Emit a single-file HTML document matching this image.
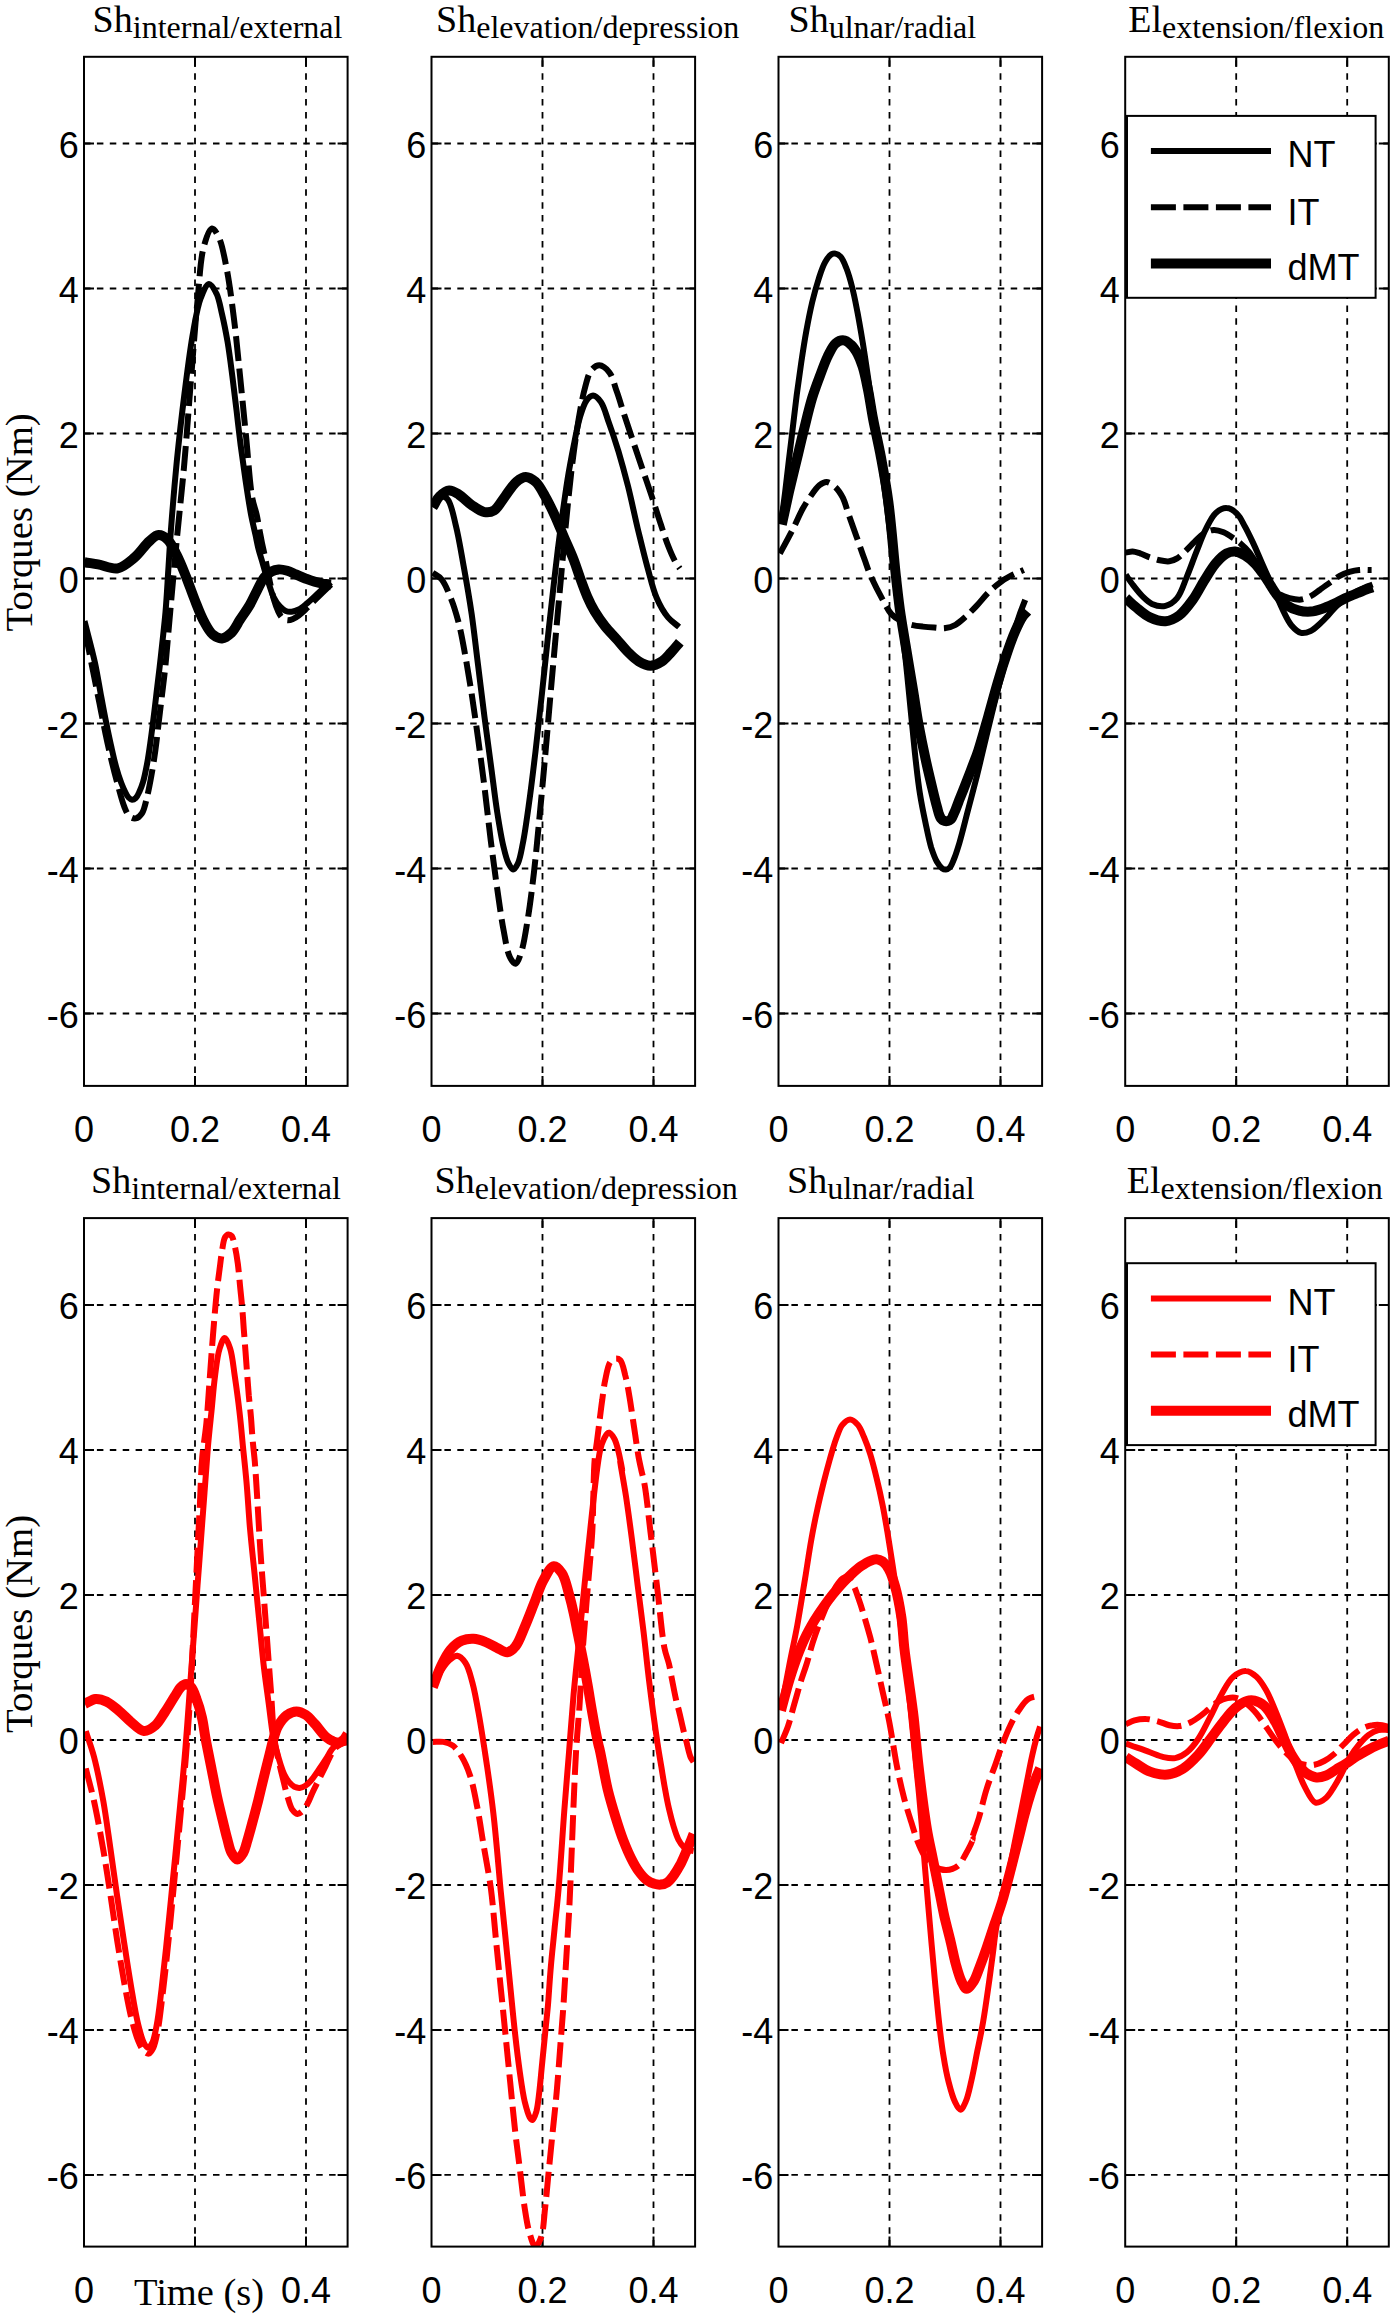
<!DOCTYPE html>
<html><head><meta charset="utf-8"><style>
html,body{margin:0;padding:0;background:#fff;}
svg{display:block;}
.tk{font-family:"Liberation Sans",sans-serif;font-size:36px;fill:#000;}
.ti{font-family:"Liberation Serif",serif;fill:#000;}
.lg{font-family:"Liberation Sans",sans-serif;font-size:36px;fill:#000;}
</style></head><body>
<svg width="1395" height="2319" viewBox="0 0 1395 2319">
<rect x="0" y="0" width="1395" height="2319" fill="#fff"/>

<clipPath id="c00"><rect x="84" y="56.8" width="263.6" height="1029.1"/></clipPath>
<g stroke="#000" stroke-width="1.8" stroke-dasharray="6.5 6.4" fill="none"><line x1="84" y1="1013.5" x2="347.6" y2="1013.5"/><line x1="84" y1="868.5" x2="347.6" y2="868.5"/><line x1="84" y1="723.5" x2="347.6" y2="723.5"/><line x1="84" y1="578.5" x2="347.6" y2="578.5"/><line x1="84" y1="433.5" x2="347.6" y2="433.5"/><line x1="84" y1="288.5" x2="347.6" y2="288.5"/><line x1="84" y1="143.5" x2="347.6" y2="143.5"/><line x1="195" y1="1085.9" x2="195" y2="56.8"/><line x1="306" y1="1085.9" x2="306" y2="56.8"/></g>
<path d="M84 1013.5h10M347.6 1013.5h-10M84 868.5h10M347.6 868.5h-10M84 723.5h10M347.6 723.5h-10M84 578.5h10M347.6 578.5h-10M84 433.5h10M347.6 433.5h-10M84 288.5h10M347.6 288.5h-10M84 143.5h10M347.6 143.5h-10M195 1085.9v-10M195 56.8v10M306 1085.9v-10M306 56.8v10" stroke="#000" stroke-width="2" fill="none"/>
<g clip-path="url(#c00)"><path d="M84.5 562.2C89.1 563 93.2 563.5 98.1 564.4C104.1 565.4 111.7 569.4 117.8 568.3C123.8 567.2 129.2 562 134.4 557.7C139.8 553.1 144.8 545.1 149.5 541.1C152.7 538.3 155.4 535.3 158.5 535.1C161.5 534.9 164.9 537.1 167.6 539.6C171.2 542.9 173.8 549.1 176.6 554.7C179.9 561.1 182.8 568.5 185.7 575.8C188.8 583.6 191.7 592.2 194.8 600C197.7 607.3 200.5 615 203.8 621.1C206.6 626.3 209.4 631.9 212.9 634.7C215.6 636.9 219 638.6 221.9 638.4C225 638.1 228.3 635.8 231 633.2C234.5 630 237 624.3 240.1 619.6C243.3 614.7 247.1 609.6 250 604.5C252.7 599.7 254.8 594.8 257.2 590.2C259.5 585.8 261.6 580.6 264.3 577.3C266.5 574.7 269 572.8 271.5 571.5C273.8 570.3 276.2 569.6 278.7 569.4C281.4 569.2 284.5 570 287.3 570.8C290.2 571.6 292.9 573.1 295.9 574.4C299.1 575.8 302.7 577.5 305.9 578.7C308.9 579.8 311.6 580.8 314.5 581.6C317.3 582.4 320.3 583.2 323.1 583.7C325.8 584.1 328.4 584.2 331 584.4" stroke="#000" stroke-width="10.0" fill="none" stroke-linejoin="round" stroke-linecap="butt"/><path d="M84.5 621.1C88.1 635.2 92.3 650.5 95.1 663.4C97.4 674.2 98.8 683.5 100.6 693.2C102.3 702.4 103.9 711.3 105.7 720.1C107.4 728.5 109.1 736.9 110.9 744.9C112.6 752.4 114.2 760 116.1 766.7C117.7 772.6 119.6 778.5 121.3 783C122.6 786.3 123.7 788.9 125 791.5C126.1 793.7 127.1 796.1 128.5 797.5C129.6 798.6 130.9 799.7 132.1 799.8C133.3 799.9 134.7 799 135.8 798C137.3 796.6 138.4 793.9 139.5 791.5C140.8 788.7 141.9 785.9 143 782.2C144.5 777.1 145.9 770 147.1 763.6C148.4 756.9 149.3 750.1 150.3 742.9C151.4 735.2 152.4 727.1 153.4 719C154.5 710.6 155.5 701.8 156.5 693.2C157.5 684.6 158.6 676.1 159.6 667.3C160.7 658.2 161.7 648.6 162.7 639.3C163.7 630.1 164.6 622.1 165.5 612C166.6 599.5 167.4 583.9 168.3 570C169.2 556.3 169.8 544.4 171 529C172.5 509.2 174.6 483.9 176.8 461.3C179.1 438.7 181.7 415.6 184.5 393.5C187.2 372.3 190 348.7 193.3 331.2C195.6 318.4 197.4 306.5 200.8 298C203.1 292.2 206.2 284.3 209 284.1C211.4 284 214.5 289.7 216.6 293.8C219.2 299.2 220.3 307.1 222.1 314.5C224.1 323 225.9 332.3 227.6 342.1C229.4 352.9 230.9 365.1 232.4 376.6C233.9 388 235.2 399.5 236.6 411C237.9 422.5 239.2 434 240.7 445.5C242.2 457 243.8 468.5 245.5 480C247.2 491.5 249.2 504.5 251 514.5C252.5 522.2 254.2 528.8 255.5 535C256.6 540.1 257.3 544.4 258.5 549C259.6 553.4 261.1 557.8 262.3 562C263.4 565.8 264.4 569.4 265.5 573C266.5 576.4 267.4 579.4 268.6 583C270.1 587.4 271.6 593.1 273.7 597.3C275.5 600.9 277.8 604.3 280.1 606.7C281.9 608.6 283.8 610.2 285.8 611C287.6 611.7 289.6 611.9 291.6 611.7C293.9 611.5 296.3 610.7 298.7 609.5C301.6 608.1 304.5 605.4 307.3 603.1C310.3 600.7 313.1 597.8 316 595.2C318.9 592.6 321.9 589.6 324.6 587.3C326.9 585.4 328.9 584 331 582.3" stroke="#000" stroke-width="6.0" fill="none" stroke-linejoin="round" stroke-linecap="butt"/><path d="M84.5 630.2C85.4 633.9 86.1 636.7 87.1 641.4C88.8 649.2 91.2 662.1 93.3 672.5C95.4 682.8 97.4 693.2 99.5 703.5C101.6 713.9 103.6 724.5 105.7 734.6C107.7 744.2 109.8 753.6 112 762.5C114 770.8 116.1 778.7 118.2 786.3C120.2 793.5 122.1 801.5 124.4 807C126 810.8 127.3 814.5 129.5 816.4C131.3 817.9 133.8 818.8 135.8 818.4C138 818 140.3 815.8 142 813.3C144.5 809.6 145.6 802.6 147.1 796.7C148.7 790.2 150 783.3 151.3 776C152.8 767.9 154.2 758.7 155.4 750.1C156.6 741.5 157.5 732.8 158.5 724.2C159.5 715.6 160.6 706.9 161.6 698.3C162.6 689.7 163.7 681.5 164.7 672.5C165.8 662.6 166.7 651.6 167.6 641.4C168.5 631.5 169.1 623.9 170.2 612C171.8 593.8 174.3 566.2 176.5 542.6C178.8 517.9 181.7 492.7 184 467C186.4 440.4 188.3 413 190.5 385.6C192.8 357.7 195 326.1 197.5 301C199.5 280.9 200.2 259.7 203.8 246.6C206 238.7 209.1 228.9 212 228.5C214.2 228.3 216.9 233.4 218.9 237.6C222.3 244.5 224.2 256.3 226.5 267.8C229.4 282.6 231.8 301.5 234 319.1C236.4 337.7 238.1 357.1 240.1 376.5C242.1 396.4 244.1 416.8 246.1 436.9C248.1 457 249.7 483.4 252.1 497.3C253.5 504.9 255.4 508.9 256.6 514.5C257.8 519.8 258.6 525.1 259.5 530C260.4 534.5 261.1 538.7 262 543C262.9 547.3 263.9 551.6 264.8 556C265.7 560.6 266.6 565.3 267.5 570C268.5 574.9 269.4 580 270.5 585C271.6 590 272.6 595.4 274 600C275.2 604 276.5 607.9 278 611C279.2 613.5 280.3 615.9 282 617.5C283.5 618.9 285.5 620.1 287.3 620.3C289.1 620.5 291.2 619.8 293 619C295 618.2 296.8 616.9 298.7 615.5C300.8 613.9 302.9 612 305 610C307.3 607.8 309.6 605.4 312 603C314.6 600.4 317.1 597.8 320 595C323.4 591.7 327.3 588 331 584.5" stroke="#000" stroke-width="6.0" fill="none" stroke-dasharray="25 7.5" stroke-linejoin="round"/></g>
<rect x="84" y="56.8" width="263.6" height="1029.1" fill="none" stroke="#000" stroke-width="2"/>
<text class="tk" x="78.7" y="1027.7" text-anchor="end">-6</text>
<text class="tk" x="78.7" y="882.7" text-anchor="end">-4</text>
<text class="tk" x="78.7" y="737.7" text-anchor="end">-2</text>
<text class="tk" x="78.7" y="592.7" text-anchor="end">0</text>
<text class="tk" x="78.7" y="447.7" text-anchor="end">2</text>
<text class="tk" x="78.7" y="302.7" text-anchor="end">4</text>
<text class="tk" x="78.7" y="157.7" text-anchor="end">6</text>
<text class="tk" x="84" y="1142.4" text-anchor="middle">0</text>
<text class="tk" x="195" y="1142.4" text-anchor="middle">0.2</text>
<text class="tk" x="306" y="1142.4" text-anchor="middle">0.4</text>
<text class="ti" x="92.6" y="31.7"><tspan font-size="38">Sh</tspan><tspan font-size="32" dy="6.5">internal/external</tspan></text>
<clipPath id="c01"><rect x="431.5" y="56.8" width="263.6" height="1029.1"/></clipPath>
<g stroke="#000" stroke-width="1.8" stroke-dasharray="6.5 6.4" fill="none"><line x1="431.5" y1="1013.5" x2="695.1" y2="1013.5"/><line x1="431.5" y1="868.5" x2="695.1" y2="868.5"/><line x1="431.5" y1="723.5" x2="695.1" y2="723.5"/><line x1="431.5" y1="578.5" x2="695.1" y2="578.5"/><line x1="431.5" y1="433.5" x2="695.1" y2="433.5"/><line x1="431.5" y1="288.5" x2="695.1" y2="288.5"/><line x1="431.5" y1="143.5" x2="695.1" y2="143.5"/><line x1="542.5" y1="1085.9" x2="542.5" y2="56.8"/><line x1="653.5" y1="1085.9" x2="653.5" y2="56.8"/></g>
<path d="M431.5 1013.5h10M695.1 1013.5h-10M431.5 868.5h10M695.1 868.5h-10M431.5 723.5h10M695.1 723.5h-10M431.5 578.5h10M695.1 578.5h-10M431.5 433.5h10M695.1 433.5h-10M431.5 288.5h10M695.1 288.5h-10M431.5 143.5h10M695.1 143.5h-10M542.5 1085.9v-10M542.5 56.8v10M653.5 1085.9v-10M653.5 56.8v10" stroke="#000" stroke-width="2" fill="none"/>
<g clip-path="url(#c01)"><path d="M432.7 507.3C435.1 503.6 436.8 499 439.8 496.2C442.5 493.5 446.1 490.6 449.3 490.4C452.5 490.2 455.6 492.6 458.9 494.6C463 497.1 467.3 502.1 471.7 505.1C475.8 507.9 480.4 511.4 484.4 512.1C487.8 512.7 491 512.3 494 510.5C498.1 508.1 501.5 501 505.2 496.2C508.9 491.4 512.4 485.1 516.4 481.8C519.4 479.3 522.7 477 525.9 477C529.1 477 532.6 479.3 535.5 481.8C539.2 485.1 542 490.9 545.1 496.2C548.5 502 551.6 508.6 554.7 515.3C558 522.4 561 530.2 564.2 537.7C567.4 545.1 571.1 553 573.8 560C576.2 566.2 577.8 571.6 580 577.6C582.3 583.9 584.7 590.8 587.3 596.7C589.6 602 591.8 606.6 594.7 611.4C597.7 616.4 601.2 621.4 604.9 626.1C608.6 630.7 612.8 634.9 616.7 639.3C620.6 643.7 624.5 648.7 628.4 652.5C631.8 655.9 634.9 659.1 638.7 661.3C642.3 663.4 646.5 665.7 650.4 665.7C654.3 665.7 658.8 663.5 662.2 661.3C665.6 659.1 668.1 655.6 671 652.5C674 649.3 676.9 645.6 679.8 642.2" stroke="#000" stroke-width="10.0" fill="none" stroke-linejoin="round" stroke-linecap="butt"/><path d="M432.7 505.7C435.6 502.6 438.5 496.7 441.4 496.2C443.5 495.8 445.9 497.2 447.7 499.4C451.4 503.6 453.3 515.3 455.7 524.9C458.8 537 461.1 552 463.7 566.4C466.5 581.8 469.3 598 471.7 614.3C474.1 631 475.9 648.3 478.1 665.3C480.2 682.3 482.3 699.6 484.4 716.4C486.5 732.6 488.7 748.3 490.8 764.3C493 780.2 494.9 797.4 497.2 812.1C499.2 824.8 501.3 837.9 503.6 847.2C505.1 853.6 506.4 859.2 508.4 863.2C509.8 866 511.6 869.6 513.2 869.6C514.8 869.6 516.6 866.1 518 863.2C520.1 858.7 521.2 851.7 522.7 844C525 832.9 527.1 817.1 529.1 802.6C531.4 786.4 533.4 769 535.5 751.5C537.7 732.9 539.8 713.5 541.9 694C544.1 674.1 546.1 653.3 548.3 633.4C550.4 614 552.5 594.5 554.7 576C556.7 558.4 558.8 541.3 561 524.9C563.1 509.5 565.2 494.2 567.4 480.2C569.4 467.8 571.6 456.2 573.8 445.1C575.8 435 577.7 424.5 580.2 416.4C582.1 410.2 583.9 404 586.6 400.4C588.4 398 590.7 395.6 593 395.6C595.5 395.7 598.6 398.9 600.9 402C604.3 406.7 606.2 415.3 608.9 422.8C612.1 431.5 615.4 441.4 618.5 451.5C621.8 462.6 625 474.4 628.1 486.6C631.4 499.8 634.4 514.5 637.6 528.1C640.8 541.1 643.9 554.2 647.2 566.4C650.3 577.5 652.8 589.2 656.8 598.3C660 605.7 663.8 612.4 668 617.4C671.4 621.5 675.4 623.8 679.1 627" stroke="#000" stroke-width="6.0" fill="none" stroke-linejoin="round" stroke-linecap="butt"/><path d="M432.7 572.8C435.6 574.9 438.7 576 441.4 579.1C445.1 583.6 448.1 591.3 450.9 598.3C454.1 606.1 456.6 614.8 458.9 623.8C461.5 633.8 463.3 644.6 465.3 655.7C467.5 667.9 469.6 680.8 471.7 694C473.9 708.4 476 723.6 478.1 738.7C480.2 754.4 482.4 770.1 484.4 786.6C486.6 804.1 488.6 823.3 490.8 840.9C492.9 857.3 495 873.3 497.2 888.7C499.3 903.1 501.2 917.9 503.6 930.2C505.5 940.3 507 951.6 510 957.3C511.6 960.5 514 964 515.7 963.7C517.8 963.4 519.5 957.4 521.1 952.6C523.8 944.8 525.6 932.4 527.5 920.6C529.9 906.3 531.9 889.9 533.9 872.8C536.2 853 538.2 830.7 540.3 808.9C542.5 786.1 544.6 762.4 546.7 738.7C548.8 714.5 550.9 689.5 553.1 665.3C555.2 641.7 557.3 618.5 559.4 595.1C561.6 571.7 563.6 547.4 565.8 524.9C567.9 503.9 569.9 482.9 572.2 464.3C574.2 448.2 576.3 433.2 578.6 419.6C580.6 408 582.5 396.6 585 387.7C586.9 380.9 588.3 373.9 591.4 370.1C593.5 367.5 596.6 365.2 599.3 365.3C602.5 365.4 606.6 368.9 609.3 372.3C612.8 376.8 614.3 384.6 616.7 391.3C619.3 398.5 621.5 406.5 624 414C626.4 421.4 628.9 428.7 631.3 436C633.8 443.3 636.2 450.7 638.7 458C641.1 465.2 643.6 472.2 646 479.4C648.5 486.7 651 494 653.4 501.4C655.9 508.9 658.2 516.6 660.7 524C663.1 531.2 665.4 538.8 668 545.4C670.3 551.3 673.1 557.8 675.4 562C676.9 564.7 678.3 566.3 679.8 568.5" stroke="#000" stroke-width="6.0" fill="none" stroke-dasharray="25 7.5" stroke-linejoin="round"/></g>
<rect x="431.5" y="56.8" width="263.6" height="1029.1" fill="none" stroke="#000" stroke-width="2"/>
<text class="tk" x="426.2" y="1027.7" text-anchor="end">-6</text>
<text class="tk" x="426.2" y="882.7" text-anchor="end">-4</text>
<text class="tk" x="426.2" y="737.7" text-anchor="end">-2</text>
<text class="tk" x="426.2" y="592.7" text-anchor="end">0</text>
<text class="tk" x="426.2" y="447.7" text-anchor="end">2</text>
<text class="tk" x="426.2" y="302.7" text-anchor="end">4</text>
<text class="tk" x="426.2" y="157.7" text-anchor="end">6</text>
<text class="tk" x="431.5" y="1142.4" text-anchor="middle">0</text>
<text class="tk" x="542.5" y="1142.4" text-anchor="middle">0.2</text>
<text class="tk" x="653.5" y="1142.4" text-anchor="middle">0.4</text>
<text class="ti" x="436.1" y="31.7"><tspan font-size="38">Sh</tspan><tspan font-size="32" dy="6.5">elevation/depression</tspan></text>
<clipPath id="c02"><rect x="778.5" y="56.8" width="263.6" height="1029.1"/></clipPath>
<g stroke="#000" stroke-width="1.8" stroke-dasharray="6.5 6.4" fill="none"><line x1="778.5" y1="1013.5" x2="1042.1" y2="1013.5"/><line x1="778.5" y1="868.5" x2="1042.1" y2="868.5"/><line x1="778.5" y1="723.5" x2="1042.1" y2="723.5"/><line x1="778.5" y1="578.5" x2="1042.1" y2="578.5"/><line x1="778.5" y1="433.5" x2="1042.1" y2="433.5"/><line x1="778.5" y1="288.5" x2="1042.1" y2="288.5"/><line x1="778.5" y1="143.5" x2="1042.1" y2="143.5"/><line x1="889.5" y1="1085.9" x2="889.5" y2="56.8"/><line x1="1000.5" y1="1085.9" x2="1000.5" y2="56.8"/></g>
<path d="M778.5 1013.5h10M1042.1 1013.5h-10M778.5 868.5h10M1042.1 868.5h-10M778.5 723.5h10M1042.1 723.5h-10M778.5 578.5h10M1042.1 578.5h-10M778.5 433.5h10M1042.1 433.5h-10M778.5 288.5h10M1042.1 288.5h-10M778.5 143.5h10M1042.1 143.5h-10M889.5 1085.9v-10M889.5 56.8v10M1000.5 1085.9v-10M1000.5 56.8v10" stroke="#000" stroke-width="2" fill="none"/>
<g clip-path="url(#c02)"><path d="M781.2 522C782.5 512.1 783.8 502.4 785.1 492.3C786.4 481.7 787.6 470.7 788.9 459.9C790.2 449.1 791.5 438.4 792.8 427.6C794.1 416.8 795.3 406 796.7 395.2C798.1 384.5 799.6 373.7 801.2 362.9C802.8 352.1 804.5 341 806.4 330.6C808.2 320.7 810.1 311.1 812.2 302.1C814.2 293.9 816.4 285.9 818.7 278.8C820.7 272.7 822.6 266.4 825.2 262C827.1 258.7 829.5 255.4 831.6 254.2C832.9 253.5 834.2 253.3 835.5 253.6C837.2 253.9 839.1 255.1 840.7 256.8C843 259.3 844.7 264 846.5 268.5C848.7 274 850.6 281 852.3 287.9C854.3 295.5 855.8 303.8 857.5 312.4C859.3 321.9 861 332 862.7 342.2C864.5 353.1 866.2 364.7 867.8 375.8C869.4 386.7 870.7 397.2 872.4 408.2C874.1 419.5 876.1 430 878.1 442.8C880.5 458.5 883.1 478.5 885.4 495.6C887.5 511.7 889.3 526.6 891.3 542.5C893.2 558.8 895.2 577.6 897.1 592.3C898.6 604.1 900 613.2 901.4 624.1C902.8 635.6 904.3 647.8 905.6 659.7C906.9 671.5 908.1 684 909.2 695.2C910.2 705.3 911 713.7 912 723.7C913.2 734.9 914.3 747.6 915.6 759.3C916.9 770.8 918.1 782.5 919.9 793.5C921.5 803.8 923.6 813.9 925.6 823.4C927.4 831.9 929.1 840.6 931.2 847.6C933 853 934.8 858.1 936.9 861.8C938.5 864.5 940.2 866.9 941.9 868.2C943.2 869.1 944.5 869.7 945.8 869.6C947.1 869.5 948.6 868.7 949.8 867.5C951.5 865.7 952.6 862.4 954 859C956 854.3 957.7 848.5 959.7 841.9C962.4 832.8 965.4 820 968.3 809.1C971.1 798.2 974 787.5 976.8 776.4C979.7 764.8 982.5 752.7 985.3 740.8C988.2 728.9 991 716.8 993.9 705.2C996.7 694.1 999.5 683.1 1002.4 672.5C1005.2 662.3 1008.1 652.1 1011 642.6C1013.6 633.7 1016.2 624.6 1018.8 616.9C1020.9 610.6 1023.1 605.6 1025.2 599.9" stroke="#000" stroke-width="6.0" fill="none" stroke-linejoin="round" stroke-linecap="butt"/><path d="M781.8 524.6C784.2 513.8 786.5 503 788.9 492.3C791.4 481.5 794.1 470.7 796.7 459.9C799.3 449.1 801.8 438.1 804.5 427.6C807 417.4 809.4 406.9 812.2 397.8C814.7 389.9 817.3 382.9 820 375.8C822.5 369.1 824.9 362.1 827.7 356.4C830.2 351.6 832.4 346.2 835.5 343.5C837.8 341.5 840.7 340.1 843.3 340.3C845.9 340.4 848.8 342.7 851 344.8C853.6 347.1 855.6 350.4 857.5 353.8C859.6 357.7 861.1 361.8 862.7 366.8C864.7 373.1 866.2 380.9 867.8 388.8C869.7 397.9 871 408 873 418.5C875.3 430.6 878.5 444.1 881 457.5C883.6 471.6 886.1 484.9 888.3 501.4C891.2 522.6 893.5 554.3 895.7 574.2C897.2 588.2 898.3 598 899.9 609.8C901.6 621.7 903.6 633 905.6 645.4C907.8 659 910.5 674.5 912.7 688.1C914.8 700.5 916.3 711.9 918.4 723.7C920.6 735.6 923 747.4 925.6 759.3C928.2 771.4 931.9 786.6 934.1 795.6C935.4 801 936.4 804.9 937.4 808.4C938.1 810.9 938.5 813 939.2 814.8C939.8 816.2 940.2 817.4 940.9 818.4C941.6 819.3 942.4 820 943.4 820.5C944.2 821 945.2 821.2 946.2 821.2C947.2 821.2 948.4 821 949.3 820.5C950.2 820 951 819.3 951.6 818.4C952.3 817.4 952.7 816.1 953.3 814.8C954 813.3 954.7 811.8 955.5 809.8C956.5 807.2 957.8 803.8 959 800.6C960.4 797.2 961.8 793.6 963.3 789.9C964.9 785.8 966.6 781.4 968.3 777.1C969.9 772.8 971.6 768.6 973.2 764.3C974.9 759.8 976.4 756.3 978.2 750.8C981.1 742 984.9 728.1 988.2 716.6C991.5 704.9 994.9 692 998.2 681C1001 671.3 1003.7 662.6 1006.7 654C1009.4 646 1012.3 637.8 1015.2 631.2C1017.6 625.8 1020 620.5 1022.4 616.9C1024 614.5 1025.7 613.1 1027.3 611.2" stroke="#000" stroke-width="10.0" fill="none" stroke-linejoin="round" stroke-linecap="butt"/><path d="M779.9 553.5C784.3 545.3 789.1 536.5 793.1 528.7C796.5 521.9 799.3 515 802.4 509.3C805 504.6 807.3 500.9 810.2 496.9C813 492.8 816.3 487.7 819.5 485.2C821.8 483.5 824 482 826.5 482.1C829.2 482.2 832.5 484.5 835 486.8C838 489.4 840.6 493.5 842.8 497.6C845.1 502.2 846.4 508 848.2 513.2C850 518.4 851.9 523.5 853.7 528.7C855.5 533.9 857.4 539 859.2 544.2C861 549.4 862.8 554.6 864.7 559.8C866.6 565 867.9 569.5 870.4 575.3C873.9 583.2 880.3 595.6 884.3 602.7C886.9 607.4 888.5 611 891.4 614.1C894.2 617.1 897.9 619.4 901.4 621.2C904.6 622.9 907.8 623.9 911.3 624.8C914.9 625.7 918.9 626.2 922.7 626.6C926.5 627.1 930.3 627.4 934.1 627.6C937.9 627.9 941.9 628.6 945.5 628C949 627.6 952.3 626.5 955.5 624.8C958.9 622.9 962.1 619.9 965.4 616.9C969.2 613.6 973.1 609.5 976.8 605.6C980.7 601.5 984.3 596.6 988.2 592.7C991.9 589.1 995.7 585.7 999.6 582.8C1003.3 580 1007 577.8 1011 575.7C1015 573.5 1019.5 571.9 1023.8 570" stroke="#000" stroke-width="6.0" fill="none" stroke-dasharray="25 7.5" stroke-linejoin="round"/></g>
<rect x="778.5" y="56.8" width="263.6" height="1029.1" fill="none" stroke="#000" stroke-width="2"/>
<text class="tk" x="773.2" y="1027.7" text-anchor="end">-6</text>
<text class="tk" x="773.2" y="882.7" text-anchor="end">-4</text>
<text class="tk" x="773.2" y="737.7" text-anchor="end">-2</text>
<text class="tk" x="773.2" y="592.7" text-anchor="end">0</text>
<text class="tk" x="773.2" y="447.7" text-anchor="end">2</text>
<text class="tk" x="773.2" y="302.7" text-anchor="end">4</text>
<text class="tk" x="773.2" y="157.7" text-anchor="end">6</text>
<text class="tk" x="778.5" y="1142.4" text-anchor="middle">0</text>
<text class="tk" x="889.5" y="1142.4" text-anchor="middle">0.2</text>
<text class="tk" x="1000.5" y="1142.4" text-anchor="middle">0.4</text>
<text class="ti" x="788.5" y="31.7"><tspan font-size="38">Sh</tspan><tspan font-size="32" dy="6.5">ulnar/radial</tspan></text>
<clipPath id="c03"><rect x="1125.2" y="56.8" width="263.6" height="1029.1"/></clipPath>
<g stroke="#000" stroke-width="1.8" stroke-dasharray="6.5 6.4" fill="none"><line x1="1125.2" y1="1013.5" x2="1388.8" y2="1013.5"/><line x1="1125.2" y1="868.5" x2="1388.8" y2="868.5"/><line x1="1125.2" y1="723.5" x2="1388.8" y2="723.5"/><line x1="1125.2" y1="578.5" x2="1388.8" y2="578.5"/><line x1="1125.2" y1="433.5" x2="1388.8" y2="433.5"/><line x1="1125.2" y1="288.5" x2="1388.8" y2="288.5"/><line x1="1125.2" y1="143.5" x2="1388.8" y2="143.5"/><line x1="1236.2" y1="1085.9" x2="1236.2" y2="56.8"/><line x1="1347.2" y1="1085.9" x2="1347.2" y2="56.8"/></g>
<path d="M1125.2 1013.5h10M1388.8 1013.5h-10M1125.2 868.5h10M1388.8 868.5h-10M1125.2 723.5h10M1388.8 723.5h-10M1125.2 578.5h10M1388.8 578.5h-10M1125.2 433.5h10M1388.8 433.5h-10M1125.2 288.5h10M1388.8 288.5h-10M1125.2 143.5h10M1388.8 143.5h-10M1236.2 1085.9v-10M1236.2 56.8v10M1347.2 1085.9v-10M1347.2 56.8v10" stroke="#000" stroke-width="2" fill="none"/>
<g clip-path="url(#c03)"><path d="M1125.8 574.8C1128.1 578.1 1130.1 581.2 1132.6 584.5C1135.5 588.3 1138.9 592.8 1142.3 596.1C1145.4 599.1 1148.2 602.2 1152 603.9C1155.9 605.6 1161.3 606.8 1165.5 605.8C1169.7 604.8 1173.9 601.9 1177.1 598.1C1181.4 593.1 1183.7 584.2 1186.8 576.8C1190.2 568.8 1193.2 559.8 1196.5 551.6C1199.7 543.7 1202.6 535.2 1206.2 528.4C1209.2 522.6 1211.9 516.3 1215.8 512.9C1219 510.2 1223 507.9 1226.5 508.1C1230.1 508.2 1234.2 511 1237.1 513.9C1240.4 517 1242.4 522 1244.9 526.5C1247.6 531.3 1250.1 536.6 1252.6 541.9C1255.3 547.5 1257.8 553.5 1260.4 559.4C1262.9 565.2 1265.5 571 1268.1 576.8C1270.7 582.6 1273.3 588.4 1275.8 594.2C1278.4 600 1280.9 606.2 1283.6 611.6C1286 616.5 1288.2 621.5 1291.3 625.2C1294.1 628.4 1297.6 632.1 1301 632.9C1304.1 633.6 1307.6 632.4 1310.7 631C1314.1 629.4 1317.4 625.9 1320.4 623.2C1323.2 620.7 1325.6 618.2 1328.1 615.5C1330.7 612.7 1333 609.5 1335.8 606.8C1338.8 604 1342.3 601.5 1345.5 599C1348.7 596.6 1351.9 594.2 1355.2 592.3C1358.4 590.4 1361.8 588.8 1364.9 587.4C1367.6 586.2 1370 585.5 1372.6 584.5" stroke="#000" stroke-width="6.0" fill="none" stroke-linejoin="round" stroke-linecap="butt"/><path d="M1125.8 598.1C1129.4 601.3 1132.6 604.6 1136.5 607.7C1140.6 611.1 1145.1 615.2 1150 617.4C1154.8 619.6 1160.6 621.7 1165.5 621.3C1170.2 620.9 1174.9 618.5 1179.1 615.5C1184 611.9 1188.5 605.6 1192.6 600C1196.9 594.1 1200.3 586.9 1204.2 580.6C1208 574.6 1211.7 568 1215.8 563.2C1219.2 559.3 1222.9 555.4 1226.5 553.5C1229.3 552.1 1232.3 551.4 1235.2 551.6C1238.4 551.9 1241.8 553.7 1244.9 555.5C1248.2 557.5 1251.6 560.3 1254.5 563.2C1257.5 566.1 1259.8 569.5 1262.3 572.9C1265 576.5 1267.5 580.6 1270 584.5C1272.6 588.4 1274.9 592.6 1277.8 596.1C1280.7 599.7 1283.8 603.4 1287.5 605.8C1290.9 608.1 1295.1 609.7 1299.1 610.6C1302.9 611.6 1306.8 611.9 1310.7 611.6C1314.6 611.3 1318.5 610 1322.3 608.7C1326.2 607.4 1330.1 605.6 1333.9 603.9C1337.8 602.1 1341.6 599.9 1345.5 598.1C1349.4 596.3 1353.4 594.7 1357.1 593.2C1360.5 591.9 1364 590.4 1366.8 589.4C1369 588.6 1370.7 588.1 1372.6 587.4" stroke="#000" stroke-width="10.0" fill="none" stroke-linejoin="round" stroke-linecap="butt"/><path d="M1125.8 552.6C1128.1 552.3 1130.3 551.5 1132.6 551.6C1135.1 551.7 1137.7 552.7 1140.4 553.5C1143.4 554.5 1146.8 556.3 1150 557.4C1153.2 558.5 1156.5 559.7 1159.7 560.3C1162.9 561 1166.4 561.7 1169.4 561.3C1172.2 560.9 1174.7 559.9 1177.1 558.4C1179.9 556.8 1182.2 554.1 1184.9 551.6C1188 548.7 1191.3 545 1194.5 541.9C1197.7 538.9 1200.8 535.2 1204.2 533.2C1207.3 531.4 1210.7 530.1 1213.9 529.9C1217.1 529.8 1220.5 531 1223.6 532.3C1226.9 533.6 1230.3 536 1233.3 538.1C1236 539.9 1238.5 541.7 1241 543.9C1243.7 546.2 1246.3 548.6 1248.7 551.6C1251.5 555 1253.9 559.4 1256.5 563.2C1259.1 567.1 1261.6 571 1264.2 574.8C1266.8 578.7 1269.2 583.1 1272 586.5C1274.4 589.4 1276.8 592.2 1279.7 594.2C1282.6 596.1 1286 597.2 1289.4 598.1C1293 599 1297.4 600 1301 599.6C1304.4 599.2 1307.6 597.7 1310.7 596.1C1314 594.4 1317.1 591.6 1320.4 589.4C1323.6 587.1 1326.8 584.8 1330 582.6C1333.3 580.3 1336.4 577.6 1339.7 575.8C1342.8 574.1 1346.1 572.9 1349.4 571.9C1352.6 571 1355.6 570.3 1359.1 570C1363 569.6 1367.5 570 1371.6 570" stroke="#000" stroke-width="6.0" fill="none" stroke-dasharray="25 7.5" stroke-linejoin="round"/></g>
<rect x="1125.2" y="56.8" width="263.6" height="1029.1" fill="none" stroke="#000" stroke-width="2"/>
<text class="tk" x="1119.9" y="1027.7" text-anchor="end">-6</text>
<text class="tk" x="1119.9" y="882.7" text-anchor="end">-4</text>
<text class="tk" x="1119.9" y="737.7" text-anchor="end">-2</text>
<text class="tk" x="1119.9" y="592.7" text-anchor="end">0</text>
<text class="tk" x="1119.9" y="447.7" text-anchor="end">2</text>
<text class="tk" x="1119.9" y="302.7" text-anchor="end">4</text>
<text class="tk" x="1119.9" y="157.7" text-anchor="end">6</text>
<text class="tk" x="1125.2" y="1142.4" text-anchor="middle">0</text>
<text class="tk" x="1236.2" y="1142.4" text-anchor="middle">0.2</text>
<text class="tk" x="1347.2" y="1142.4" text-anchor="middle">0.4</text>
<text class="ti" x="1128.3" y="31.7"><tspan font-size="38">El</tspan><tspan font-size="32" dy="6.5">extension/flexion</tspan></text>
<text class="ti" font-size="38.8" transform="translate(31.9,631.4) rotate(-90)" x="0" y="0">Torques (Nm)</text>
<clipPath id="c10"><rect x="84" y="1218.1" width="263.6" height="1028.5"/></clipPath>
<g stroke="#000" stroke-width="1.8" stroke-dasharray="6.5 6.4" fill="none"><line x1="84" y1="2174.9" x2="347.6" y2="2174.9"/><line x1="84" y1="2030" x2="347.6" y2="2030"/><line x1="84" y1="1885" x2="347.6" y2="1885"/><line x1="84" y1="1740" x2="347.6" y2="1740"/><line x1="84" y1="1595" x2="347.6" y2="1595"/><line x1="84" y1="1450" x2="347.6" y2="1450"/><line x1="84" y1="1305" x2="347.6" y2="1305"/><line x1="195" y1="2246.6" x2="195" y2="1218.1"/><line x1="306" y1="2246.6" x2="306" y2="1218.1"/></g>
<path d="M84 2174.9h10M347.6 2174.9h-10M84 2030h10M347.6 2030h-10M84 1885h10M347.6 1885h-10M84 1740h10M347.6 1740h-10M84 1595h10M347.6 1595h-10M84 1450h10M347.6 1450h-10M84 1305h10M347.6 1305h-10M195 2246.6v-10M195 1218.1v10M306 2246.6v-10M306 1218.1v10" stroke="#000" stroke-width="2" fill="none"/>
<g clip-path="url(#c10)"><path d="M84.8 1703.9C88.4 1702.3 91.8 1699.4 95.5 1699C99.2 1698.7 103.4 1700.2 107.1 1701.9C111.2 1703.9 114.9 1707.5 118.7 1710.6C122.7 1713.9 126.2 1717.9 130.3 1721.3C134.6 1724.7 139.4 1730.6 143.9 1731C147.8 1731.3 152.1 1728.1 155.5 1725.2C159.3 1721.9 162 1716.3 165.2 1711.6C168.5 1706.7 172 1700.5 174.8 1696.1C177 1692.8 178.5 1689.5 180.6 1687.4C182.3 1685.8 184.3 1684.1 186.1 1684.1C187.8 1684.1 189.8 1685.7 191.3 1687.4C193.4 1689.8 194.6 1693.9 196.1 1698.1C198.2 1703.5 200.4 1710.7 201.9 1717.4C203.6 1724.6 204.3 1732 205.8 1740C207.5 1749 209.6 1759.1 211.5 1768.7C213.4 1778.2 215.3 1788.5 217.2 1797.3C218.9 1805 220.6 1811.8 222.3 1818.9C224 1825.7 225.6 1833 227.3 1839C228.7 1844 229.4 1848.9 231.4 1852.5C233 1855.4 235.3 1859.5 237.3 1859.5C239.2 1859.5 241.6 1855.7 243.2 1853C245.1 1849.7 245.9 1845.3 247.3 1840.8C249 1835.3 250.7 1828.8 252.4 1822.4C254.3 1815.5 256.2 1808.2 258.1 1800.9C260 1793.2 261.9 1785.1 263.8 1777.3C265.7 1769.6 267.9 1761.1 269.6 1754.3C270.9 1749 271.8 1744.7 273.2 1740C274.6 1735.4 275.6 1730.7 277.8 1726.6C280.2 1722.3 283.7 1717.4 287.2 1714.9C290 1712.8 293.4 1711.4 296.5 1711.4C299.6 1711.4 302.9 1713 305.8 1714.9C309.1 1717.1 311.9 1720.8 315.1 1724.2C318.6 1728.1 322.5 1734 326 1737C328.5 1739.1 330.9 1740.4 333.3 1741.4C335.3 1742.1 337.4 1742.8 339.2 1742.5C340.8 1742.2 342.2 1741.1 343.6 1739.9C345.1 1738.4 346.2 1736 347.6 1734" stroke="#ff0000" stroke-width="10.0" fill="none" stroke-linejoin="round" stroke-linecap="butt"/><path d="M85.8 1731.2C88.5 1739.7 91.4 1747 94 1756.8C97.3 1769.5 100.6 1786.1 103.3 1801C106 1816.3 108 1831.9 110.3 1847.6C112.6 1863.7 114.9 1880.4 117.2 1896.5C119.5 1912.2 121.9 1927.7 124.2 1943C126.5 1958 128.8 1973.1 131.2 1987.2C133.4 2000.2 135.6 2014.3 138.2 2024.5C140 2031.8 141.8 2039.1 144 2043.1C145.2 2045.3 146.6 2047.7 148 2047.8C149.3 2047.8 150.9 2045.4 152.2 2043.1C154.3 2039.1 155.4 2031.7 156.8 2024.5C158.7 2014.7 160 2001.7 161.5 1989.6C163.1 1976.2 164.6 1962 166.1 1947.7C167.7 1932.6 169.2 1916.6 170.8 1901.1C172.3 1885.6 173.9 1870.3 175.4 1854.6C177 1838.5 178.5 1822 180.1 1805.7C181.6 1789.4 183.2 1775 184.7 1756.8C186.7 1733.9 188.9 1701.5 190.6 1678.9C191.9 1661.4 192.9 1647.8 194.1 1632.3C195.2 1616.8 196.4 1601.3 197.5 1585.8C198.7 1570.3 199.9 1554.7 201 1539.2C202.2 1523.7 203.4 1508.2 204.5 1492.7C205.7 1477.2 206.8 1460.5 208 1446.1C209.1 1433.6 210.3 1422.8 211.5 1411.2C212.7 1399.6 213.5 1387.3 215 1376.3C216.3 1366.4 217.4 1355.3 219.7 1348.4C221.1 1343.9 223 1337.9 224.8 1337.9C226.5 1337.9 228.7 1343.9 230.1 1348.4C232.4 1355.3 233.3 1366.5 234.8 1376.3C236.4 1387.3 238.1 1399.6 239.4 1411.2C240.8 1422.8 241.8 1434.5 242.9 1446.1C244.1 1457.8 245.3 1468.6 246.4 1481C247.7 1495.4 248.6 1512.1 249.9 1527.6C251.3 1543.1 253 1558.6 254.6 1574.1C256.1 1589.7 257.7 1605.2 259.2 1620.7C260.8 1636.2 262.2 1652.9 263.9 1667.2C265.3 1679.7 267 1690.5 268.5 1702.2C270.1 1713.8 271.5 1727.9 273.2 1737C274.3 1742.9 275.6 1746.9 276.9 1751.6C278 1755.9 279.2 1760.1 280.5 1764.1C281.7 1767.7 282.7 1771.2 284.2 1774.3C285.6 1777.3 287.4 1780.2 289.3 1782.4C290.9 1784.2 292.6 1785.9 294.4 1786.8C296.1 1787.6 297.8 1788 299.6 1787.9C301.5 1787.7 303.6 1786.8 305.4 1785.7C307.5 1784.4 309.4 1782.4 311.3 1780.2C313.7 1777.4 316.2 1773.4 318.6 1769.9C321.1 1766.4 323.7 1762.5 326 1758.9C328.1 1755.7 329.8 1752 331.8 1749.4C333.5 1747.3 335.1 1745.4 337 1744.3C338.6 1743.3 340.3 1743.2 342.1 1742.8C343.9 1742.4 345.7 1742.3 347.6 1742.1" stroke="#ff0000" stroke-width="6.0" fill="none" stroke-linejoin="round" stroke-linecap="butt"/><path d="M85.8 1768.4C88.5 1779.3 91.3 1789 94 1801C97.2 1815.6 100.5 1834 103.3 1849.9C105.9 1865 108 1879.2 110.3 1894.1C112.6 1909.5 114.9 1925.6 117.2 1940.7C119.5 1955 121.8 1969.3 124.2 1982.6C126.5 1994.8 128.6 2007.1 131.2 2017.5C133.4 2026.1 135.6 2034.7 138.2 2040.8C140 2045.1 141.8 2049.2 144 2051.2C145.5 2052.6 147.2 2053.9 148.7 2053.6C150.4 2053.2 152 2050.4 153.3 2047.8C155.4 2043.5 156.6 2036.4 158 2029.1C159.8 2019.4 161.1 2006.4 162.6 1994.2C164.3 1980.9 165.8 1966.7 167.3 1952.3C168.9 1937.2 170.4 1921.5 171.9 1905.8C173.5 1889.7 175 1873.2 176.6 1856.9C178.1 1840.6 179.7 1824.5 181.2 1808C182.8 1791.1 184.4 1775 185.9 1756.8C187.6 1736.1 189.3 1710.7 190.6 1690.5C191.6 1673.6 192.1 1659.5 192.9 1644C193.7 1628.4 194.4 1612.9 195.2 1597.4C196 1581.9 196.8 1566.4 197.5 1550.9C198.3 1535.3 199.1 1519.8 199.9 1504.3C200.6 1488.8 201 1472.1 202.2 1457.8C203.3 1445.3 205.2 1435.3 206.4 1423C207.7 1409.2 208.6 1393.7 209.7 1379C210.8 1364.3 211.8 1349.7 213 1335C214.2 1320.3 215.6 1303.1 216.9 1291C217.8 1282.4 218.7 1275.8 219.6 1269C220.4 1263.1 220.9 1257.9 221.8 1252.5C222.7 1247.3 223.3 1240 225.1 1237.1C226 1235.6 227.3 1234.5 228.4 1234.4C229.5 1234.3 230.8 1234.9 231.7 1236C233.3 1237.9 234 1242.9 235 1247C236.1 1251.9 237 1257.6 237.8 1263.5C238.7 1270.3 239.3 1278.2 240 1285.5C240.7 1292.8 241.6 1300.2 242.2 1307.5C242.8 1314.8 243.3 1322.2 243.8 1329.5C244.4 1336.8 244.9 1344.2 245.5 1351.5C246 1358.8 246.6 1366.2 247.1 1373.5C247.7 1380.8 248.2 1388.2 248.8 1395.5C249.5 1402.8 250.4 1410.2 251 1417.5C251.6 1424.8 252 1432.2 252.6 1439.5C253.2 1446.8 254.1 1453.5 254.8 1461.5C255.6 1471 256.1 1480.7 256.9 1492.7C257.9 1509.1 259.2 1532.6 260.4 1550.9C261.5 1567.2 262.7 1581.9 263.9 1597.4C265 1612.9 266.2 1628.4 267.4 1644C268.5 1659.5 269.7 1674.7 270.9 1690.5C272.1 1706.9 272.8 1727.4 274.7 1740.6C275.9 1749.5 277.5 1755.6 279.1 1762.6C280.5 1769 282 1775 283.5 1780.9C284.9 1786.7 286.2 1792.7 287.9 1797.8C289.2 1802.1 290.3 1806.7 292.2 1809.5C293.7 1811.6 295.6 1813.7 297.4 1813.9C299 1814.1 300.9 1812.4 302.5 1811C304.4 1809.2 306.1 1806.5 307.6 1803.6C309.5 1800.3 310.9 1795.8 312.8 1791.9C314.6 1788 316.7 1784.1 318.6 1780.2C320.6 1776.3 322.6 1772.3 324.5 1768.5C326.3 1764.8 327.8 1760.9 329.6 1757.5C331.3 1754.3 332.7 1751 334.8 1748.7C336.5 1746.7 338.5 1745.4 340.6 1744.3C342.8 1743.2 345.3 1742.8 347.6 1742.1" stroke="#ff0000" stroke-width="6.0" fill="none" stroke-dasharray="25 7.5" stroke-linejoin="round"/></g>
<rect x="84" y="1218.1" width="263.6" height="1028.5" fill="none" stroke="#000" stroke-width="2"/>
<text class="tk" x="78.7" y="2189.1" text-anchor="end">-6</text>
<text class="tk" x="78.7" y="2044.2" text-anchor="end">-4</text>
<text class="tk" x="78.7" y="1899.2" text-anchor="end">-2</text>
<text class="tk" x="78.7" y="1754.2" text-anchor="end">0</text>
<text class="tk" x="78.7" y="1609.2" text-anchor="end">2</text>
<text class="tk" x="78.7" y="1464.2" text-anchor="end">4</text>
<text class="tk" x="78.7" y="1319.2" text-anchor="end">6</text>
<text class="tk" x="84" y="2303.1" text-anchor="middle">0</text>
<text class="tk" x="306" y="2303.1" text-anchor="middle">0.4</text>
<text class="ti" x="91.1" y="1192.6"><tspan font-size="38">Sh</tspan><tspan font-size="32" dy="6.5">internal/external</tspan></text>
<clipPath id="c11"><rect x="431.5" y="1218.1" width="263.6" height="1028.5"/></clipPath>
<g stroke="#000" stroke-width="1.8" stroke-dasharray="6.5 6.4" fill="none"><line x1="431.5" y1="2174.9" x2="695.1" y2="2174.9"/><line x1="431.5" y1="2030" x2="695.1" y2="2030"/><line x1="431.5" y1="1885" x2="695.1" y2="1885"/><line x1="431.5" y1="1740" x2="695.1" y2="1740"/><line x1="431.5" y1="1595" x2="695.1" y2="1595"/><line x1="431.5" y1="1450" x2="695.1" y2="1450"/><line x1="431.5" y1="1305" x2="695.1" y2="1305"/><line x1="542.5" y1="2246.6" x2="542.5" y2="1218.1"/><line x1="653.5" y1="2246.6" x2="653.5" y2="1218.1"/></g>
<path d="M431.5 2174.9h10M695.1 2174.9h-10M431.5 2030h10M695.1 2030h-10M431.5 1885h10M695.1 1885h-10M431.5 1740h10M695.1 1740h-10M431.5 1595h10M695.1 1595h-10M431.5 1450h10M695.1 1450h-10M431.5 1305h10M695.1 1305h-10M542.5 2246.6v-10M542.5 1218.1v10M653.5 2246.6v-10M653.5 1218.1v10" stroke="#000" stroke-width="2" fill="none"/>
<g clip-path="url(#c11)"><path d="M432.8 1687.2C435.5 1680.3 437.9 1672.7 441 1666.3C443.8 1660.4 446.5 1654.4 450.3 1650C453.6 1646.1 457.8 1642.5 461.9 1640.7C465.6 1639.1 469.7 1638.6 473.6 1638.8C477.5 1639 481.4 1640.4 485.2 1641.9C489.1 1643.3 493 1645.9 496.8 1647.7C500.4 1649.4 504.1 1652.7 507.3 1652.3C510.3 1652 513 1649.5 515.4 1646.5C519.1 1642.1 521.8 1633.6 524.8 1626.7C528 1619.3 531 1611.2 534.1 1603.4C537.2 1595.7 539.7 1586.7 543.4 1580.2C546.5 1574.7 550.4 1566.6 553.9 1566.2C556.6 1565.9 559.7 1569.8 562 1573.2C565.3 1578 567 1587.3 569 1594.1C570.8 1600.5 572.2 1606.2 573.6 1612.8C575.3 1620.1 576.7 1628.3 578.3 1636C579.8 1643.8 581.4 1651.4 582.9 1659.3C584.5 1667.6 586.1 1676.2 587.6 1684.9C589.2 1694 590.6 1703.4 592.3 1712.8C594 1722.7 596.6 1736.3 598.1 1743.1C598.8 1746.6 599.2 1747.4 600 1751C601.8 1759 605 1778.2 607.8 1789.9C610.2 1799.8 612.8 1808.3 615.5 1817C618 1825.1 620.5 1833.1 623.3 1840.3C625.8 1846.7 628.3 1852.8 631.1 1858.2C633.5 1863 636 1867.6 638.8 1871.4C641.2 1874.7 643.8 1877.9 646.6 1880C649 1881.8 651.8 1883 654.3 1883.8C656.4 1884.4 658.5 1884.8 660.6 1884.6C662.9 1884.4 665.4 1883.7 667.5 1882.3C669.9 1880.7 671.8 1877.9 673.8 1875.3C676 1872.3 678.1 1868.7 680 1865.2C682 1861.5 683.7 1857.3 685.4 1853.5C687 1849.8 688.7 1846.1 690.1 1842.7C691.4 1839.7 692.4 1836.9 693.6 1834" stroke="#ff0000" stroke-width="10.0" fill="none" stroke-linejoin="round" stroke-linecap="butt"/><path d="M432.8 1684.9C435.5 1680.3 438.1 1675.2 441 1670.9C443.6 1667.1 446.1 1663.1 449.1 1660.5C451.6 1658.3 454.6 1655.6 457.3 1655.8C460.1 1656.1 463.1 1659.5 465.4 1662.8C468.6 1667.4 470.3 1675 472.4 1682.6C475.1 1692.5 477.2 1705.2 479.4 1717.5C481.8 1731.3 484.1 1746.4 486.4 1761.7C488.8 1778.2 491.2 1794.2 493.3 1812.9C496 1835.7 498.4 1866.3 500.5 1888.7C502.3 1906.6 503.8 1921 505.4 1937.1C507 1953.2 508.6 1969.4 510.2 1985.5C511.8 2001.6 513.4 2018.7 515.1 2033.9C516.6 2047.5 518.2 2060.6 519.9 2072.6C521.4 2083 522.8 2093.5 524.7 2101.6C526.2 2107.6 527.8 2114.1 529.6 2117.1C530.5 2118.6 531.6 2120.2 532.5 2120C533.9 2119.7 535.3 2114.9 536.4 2111.3C537.8 2106.2 538.4 2099.1 539.3 2091.9C540.3 2083.2 541.2 2072.6 542.2 2062.9C543.1 2053.2 544.1 2043.5 545.1 2033.9C546 2024.2 547.1 2015.2 548 2004.8C549 1992.9 549.7 1979 550.9 1966.1C552 1953.2 553.5 1940.3 554.7 1927.4C556 1914.5 557.3 1903.9 558.6 1888.7C560.5 1867.2 562.5 1834.7 564.3 1810.6C565.9 1789.8 567.4 1771.8 569 1752.4C570.5 1733 572 1712.5 573.6 1694.2C575.1 1677.8 576.7 1663.2 578.3 1647.7C579.8 1632.2 581.4 1616.6 582.9 1601.1C584.5 1585.6 585.6 1573.2 587.6 1554.6C590.7 1526.7 596.2 1468 600.1 1450.4C601.5 1444.3 602.5 1441.6 604.2 1438.4C605.5 1435.9 607 1432.4 608.7 1432.4C610.4 1432.3 612.7 1435.8 614.2 1438.4C616.1 1441.6 617 1445.9 618.2 1450.4C619.7 1456.1 622.3 1470 622.2 1470C622.2 1470 620.3 1461.4 620.2 1461.5C619.9 1461.5 624.1 1484.2 626 1496.4C628 1509.7 629.9 1523.9 631.8 1538.3C633.8 1553.4 635.7 1569.3 637.6 1584.8C639.6 1600.3 641.6 1615.5 643.5 1631.4C645.5 1648 647.1 1664.8 649.3 1682.6C651.7 1702 655.2 1727.8 657.5 1743.3C658.9 1752.9 660 1758.8 661.3 1766.6C662.6 1774.4 663.8 1782.5 665.2 1789.9C666.4 1796.7 667.6 1803 669.1 1809.3C670.5 1815.4 672.1 1821.7 673.8 1827.1C675.2 1831.7 676.5 1836 678.4 1839.6C680 1842.6 681.9 1845.5 683.9 1847.3C685.5 1848.7 687.3 1849.4 689 1850C690.5 1850.6 692.1 1850.7 693.6 1851" stroke="#ff0000" stroke-width="6.0" fill="none" stroke-linejoin="round" stroke-linecap="butt"/><path d="M432.8 1741.9C436.3 1741.9 440 1741.3 443.3 1741.9C446.5 1742.5 449.8 1743.4 452.6 1745.4C456.1 1748 459.2 1752.5 461.9 1757.1C465.1 1762.4 467.7 1768.6 470.1 1775.7C473 1784.4 475 1795.5 477 1805.9C479.3 1817.1 480.8 1828.3 482.9 1840.9C485.3 1855.6 488.7 1872.7 490.9 1888.7C493 1904.8 494.1 1921 495.7 1937.1C497.3 1953.2 498.9 1969.4 500.5 1985.5C502.2 2001.6 503.8 2017.7 505.4 2033.9C507 2050 508.6 2066.1 510.2 2082.3C511.8 2098.4 513.4 2115.4 515.1 2130.6C516.6 2144.3 518.3 2156.5 519.9 2169.4C521.5 2182.3 522.9 2196.6 524.7 2208.1C526.2 2217.4 527.4 2226.2 529.6 2233.2C531.2 2238.5 533.3 2246.6 535.4 2246.8C537.2 2246.9 539.7 2241.4 541.2 2237.1C543.6 2230.2 543.9 2218.4 545.1 2208.1C546.5 2196.1 547.6 2182.3 548.9 2169.4C550.2 2156.5 551.5 2143.5 552.8 2130.6C554.1 2117.7 555.5 2105.6 556.7 2091.9C558 2076.7 559.4 2058.8 560.5 2043.5C561.6 2029.9 562.5 2018.5 563.5 2004.8C564.5 1989.6 565.4 1972.6 566.4 1956.5C567.3 1940.3 568.2 1928.8 569.3 1908.1C571.2 1870.9 573.8 1789.1 576 1752.4C577.2 1732.3 578.4 1722.2 579.5 1705.9C580.7 1687.6 581.6 1667.1 582.9 1647.7C584.3 1628.3 586.1 1608.9 587.6 1589.5C589.2 1570.1 591.1 1551.7 592.3 1531.3C593.5 1508.9 593.3 1476.8 594.6 1460.5C595.3 1451.7 596.3 1447.1 597.1 1440.4C598 1433.7 598.8 1427 599.6 1420.3C600.5 1413.6 601.2 1406.9 602.2 1400.3C603.1 1393.6 603.8 1386.7 605.2 1380.2C606.5 1374 607.7 1365.6 610.2 1362.1C611.6 1360.1 613.5 1358.9 615.2 1358.6C616.8 1358.3 618.8 1358.7 620.2 1360.1C622.7 1362.5 623.8 1369.7 625.2 1375.2C626.9 1381.3 628.1 1388.5 629.2 1395.2C630.4 1401.9 631.3 1408.6 632.3 1415.3C633.3 1422 634.3 1428.7 635.3 1435.4C636.3 1442.1 637.2 1449.3 638.3 1455.4C639.2 1460.7 640.2 1465.1 641.3 1470C642.4 1474.9 643.5 1478.4 644.6 1484.7C646.6 1495.9 648.4 1514.9 650.4 1531.3C652.7 1549.6 655.1 1570.1 657.4 1589.5C659.8 1608.9 661.8 1634.3 664.4 1647.7C665.8 1654.9 667.8 1658.9 669 1664.1C670.1 1668.6 670.5 1672.1 671.5 1677C672.8 1683.5 674.6 1693.3 676 1699.5C677 1704 677.9 1706.7 679 1711C680.4 1716.6 682.1 1724.8 683.5 1730.4C684.6 1734.8 685.4 1737.9 686.5 1742C687.7 1746.7 689 1753.4 690.5 1757C691.4 1759.2 692.5 1760.3 693.5 1762" stroke="#ff0000" stroke-width="6.0" fill="none" stroke-dasharray="25 7.5" stroke-linejoin="round"/></g>
<rect x="431.5" y="1218.1" width="263.6" height="1028.5" fill="none" stroke="#000" stroke-width="2"/>
<text class="tk" x="426.2" y="2189.1" text-anchor="end">-6</text>
<text class="tk" x="426.2" y="2044.2" text-anchor="end">-4</text>
<text class="tk" x="426.2" y="1899.2" text-anchor="end">-2</text>
<text class="tk" x="426.2" y="1754.2" text-anchor="end">0</text>
<text class="tk" x="426.2" y="1609.2" text-anchor="end">2</text>
<text class="tk" x="426.2" y="1464.2" text-anchor="end">4</text>
<text class="tk" x="426.2" y="1319.2" text-anchor="end">6</text>
<text class="tk" x="431.5" y="2303.1" text-anchor="middle">0</text>
<text class="tk" x="542.5" y="2303.1" text-anchor="middle">0.2</text>
<text class="tk" x="653.5" y="2303.1" text-anchor="middle">0.4</text>
<text class="ti" x="434.6" y="1192.6"><tspan font-size="38">Sh</tspan><tspan font-size="32" dy="6.5">elevation/depression</tspan></text>
<clipPath id="c12"><rect x="778.5" y="1218.1" width="263.6" height="1028.5"/></clipPath>
<g stroke="#000" stroke-width="1.8" stroke-dasharray="6.5 6.4" fill="none"><line x1="778.5" y1="2174.9" x2="1042.1" y2="2174.9"/><line x1="778.5" y1="2030" x2="1042.1" y2="2030"/><line x1="778.5" y1="1885" x2="1042.1" y2="1885"/><line x1="778.5" y1="1740" x2="1042.1" y2="1740"/><line x1="778.5" y1="1595" x2="1042.1" y2="1595"/><line x1="778.5" y1="1450" x2="1042.1" y2="1450"/><line x1="778.5" y1="1305" x2="1042.1" y2="1305"/><line x1="889.5" y1="2246.6" x2="889.5" y2="1218.1"/><line x1="1000.5" y1="2246.6" x2="1000.5" y2="1218.1"/></g>
<path d="M778.5 2174.9h10M1042.1 2174.9h-10M778.5 2030h10M1042.1 2030h-10M778.5 1885h10M1042.1 1885h-10M778.5 1740h10M1042.1 1740h-10M778.5 1595h10M1042.1 1595h-10M778.5 1450h10M1042.1 1450h-10M778.5 1305h10M1042.1 1305h-10M889.5 2246.6v-10M889.5 1218.1v10M1000.5 2246.6v-10M1000.5 1218.1v10" stroke="#000" stroke-width="2" fill="none"/>
<g clip-path="url(#c12)"><path d="M781 1709.1C783.8 1694.1 786.7 1678.5 789.5 1664C792.1 1650.6 794.8 1638.8 797.3 1625.2C800 1610.4 802.6 1593.4 805.1 1578.6C807.3 1565.1 809.1 1552 811.3 1539.8C813.2 1528.8 815.3 1518.6 817.5 1508.7C819.5 1499.5 821.6 1490.8 823.7 1482.3C825.7 1474.3 827.8 1466.5 829.9 1459C831.9 1452 833.9 1444.9 836.1 1438.8C838.1 1433.7 839.6 1428.2 842.3 1424.9C844.5 1422.2 847.5 1419.4 850.1 1419.4C852.7 1419.4 855.7 1422.3 857.9 1424.9C860.5 1427.9 862.1 1432.7 864.1 1437.3C866.3 1442.5 868.4 1448.2 870.3 1454.4C872.5 1461.5 874.5 1469.5 876.5 1477.7C878.7 1486.5 880.9 1496.4 882.7 1505.6C884.5 1514.5 885.6 1521.5 887.4 1532C889.9 1547.5 893.7 1571.3 896.2 1589.5C898.5 1605.8 900.1 1620.5 902 1636C904 1651.6 906.1 1667.1 907.8 1682.6C909.6 1698.1 910.9 1713.6 912.5 1729.1C914 1744.7 915.9 1762.7 917.1 1775.7C918.1 1785.1 918.8 1791.5 919.5 1800C920.4 1809.2 921.2 1818.7 922.1 1829C923 1841 923.9 1854.8 925 1867.7C926 1880.6 927.1 1893.5 928.3 1906.5C929.4 1919.4 930.6 1932.3 931.7 1945.2C932.9 1958.1 934 1971 935.2 1983.9C936.5 1996.8 937.7 2010.2 939.1 2022.6C940.4 2034 941.6 2045.1 943.4 2055.5C944.9 2065 946.6 2074.4 948.8 2082.6C950.6 2089.6 952.6 2097.1 955 2101.9C956.6 2105.3 958.6 2109.7 960.4 2109.7C962.2 2109.7 964.1 2105.3 965.6 2101.9C968 2096.7 969.6 2088.3 971.4 2080.6C973.5 2071.7 975.3 2061.3 977.2 2051.6C979.2 2041.9 981.2 2033 983 2022.6C985.1 2010.6 987.1 1995.9 988.8 1983.9C990.3 1973.5 991.4 1964.5 992.7 1954.8C994 1945.2 994.6 1937 996.6 1925.8C999.4 1910.1 1006 1885.3 1009.3 1869.7C1011.7 1858.6 1013.1 1850.7 1015 1841.2C1016.9 1831.7 1018.8 1822.3 1020.7 1812.8C1022.6 1803.3 1024.5 1793.8 1026.4 1784.3C1028.3 1774.8 1030.2 1764.4 1032.1 1755.9C1033.6 1748.9 1035.3 1742.3 1036.8 1736.9C1038 1732.9 1039 1729.9 1040.1 1726.5" stroke="#ff0000" stroke-width="6.0" fill="none" stroke-linejoin="round" stroke-linecap="butt"/><path d="M781 1710.6C783.8 1700.3 786.6 1689.1 789.5 1679.6C792.1 1671.2 794.6 1663.6 797.3 1656.3C799.8 1649.7 802.2 1643.6 805.1 1637.6C807.9 1631.7 811.2 1625.9 814.4 1620.5C817.4 1615.6 820.5 1611.1 823.7 1606.6C826.7 1602.3 829.8 1598.1 833 1594.1C836.1 1590.3 839.2 1586.7 842.3 1583.3C845.4 1580 848.5 1576.9 851.7 1574C854.7 1571.2 857.8 1568.4 861 1566.2C864 1564.1 867.4 1561.9 870.3 1560.8C872.5 1559.9 874.5 1559.1 876.5 1559.2C878.6 1559.3 880.8 1560.2 882.7 1561.5C885 1563.2 887.1 1566 888.9 1569.3C891.4 1573.7 893.3 1579.8 895.1 1586.4C897.6 1595.1 899.8 1607.1 901.4 1617.4C902.9 1627.6 903.1 1637.2 904.3 1647.7C905.6 1658.9 907.4 1670.9 909 1682.6C910.6 1694.2 912.2 1705 913.7 1717.5C915.3 1731.9 916.4 1747.3 918.3 1764.1C920.6 1783.9 924 1811.7 926.9 1829C928.8 1840.7 930.8 1848.4 932.7 1858.1C934.6 1867.7 936.6 1877.4 938.5 1887.1C940.5 1896.8 942.3 1907 944.3 1916.1C946.2 1924.3 948.2 1931.4 950.1 1939.4C952.1 1947.6 953.8 1956.9 955.9 1964.5C957.7 1970.9 959.5 1977.6 961.7 1981.9C963.2 1984.9 964.7 1988.6 966.6 1988.7C968.6 1988.9 971.4 1984.8 973.4 1981.9C975.8 1978.4 977.2 1973.4 979.2 1968.4C981.6 1962.1 984.4 1954.4 986.9 1947.1C989.5 1939.5 992.1 1931.6 994.6 1923.9C997.2 1916.1 999.5 1910.2 1002.4 1900.6C1006.9 1885.5 1013.8 1857.1 1017.9 1841.2C1020.6 1830.6 1022.2 1823.2 1024.5 1814.7C1026.6 1806.8 1028.9 1798.8 1031.1 1791.9C1033 1786 1035.1 1780.1 1036.8 1775.8C1038 1772.8 1039 1770.7 1040.1 1768.2" stroke="#ff0000" stroke-width="10.0" fill="none" stroke-linejoin="round" stroke-linecap="butt"/><path d="M781 1743.2C783.3 1737.6 785.9 1732.3 788 1726.2C790.3 1719.4 792.1 1711.7 794.2 1704.4C796.3 1697.2 798.3 1689.6 800.4 1682.7C802.4 1676.2 804.6 1670.5 806.6 1664C808.8 1657.1 810.5 1649.5 812.8 1642.3C815.2 1635 817.9 1627.5 820.6 1620.5C823.1 1614.1 825.7 1607.8 828.4 1601.9C830.9 1596.5 833.5 1590.6 836.1 1586.4C838.1 1583.2 840.2 1580.1 842.3 1578.6C843.9 1577.6 845.5 1576.6 847 1577.1C849.2 1577.7 851.4 1581.7 853.2 1584.8C855.4 1588.7 856.9 1593.9 858.6 1598.8C860.5 1604.2 862.3 1609.8 864.1 1615.9C866.1 1622.7 868.3 1630 870.3 1637.6C872.5 1646 874.5 1655.1 876.5 1664C878.6 1673.2 880.7 1682.7 882.7 1692C884.8 1701.3 886.8 1709.3 888.9 1720C891.7 1733.9 894.5 1754.4 897.4 1768.7C899.6 1780 901.9 1789.6 904.3 1799C906.5 1807.3 908.9 1814.7 911.3 1822.2C913.6 1829.4 915.7 1837 918.3 1843.2C920.5 1848.4 922.4 1853.2 925.3 1857.2C927.9 1860.8 931 1864.3 934.6 1866.5C938 1868.5 942.4 1870.1 946.2 1870C950.1 1869.9 954.7 1868.3 957.9 1865.8C961.2 1863.2 963.2 1858.4 965.6 1854.2C968.3 1849.5 973.7 1838.9 973.4 1838.7C973.2 1838.6 971.6 1841.4 971.4 1841.2C970.7 1840.9 976.5 1825.8 979 1817.5C981.6 1808.5 983.7 1798.1 986.6 1789.1C989.2 1780.7 992.4 1772.8 995.1 1765.4C997.5 1758.7 999.3 1752.8 1001.7 1746.4C1004.3 1739.6 1007.2 1731.8 1010.3 1725.5C1012.9 1720 1015.7 1714.9 1018.8 1710.3C1021.7 1706.1 1024.6 1701.4 1028.3 1699C1031.4 1696.9 1035.2 1696.8 1038.7 1695.6" stroke="#ff0000" stroke-width="6.0" fill="none" stroke-dasharray="25 7.5" stroke-linejoin="round"/></g>
<rect x="778.5" y="1218.1" width="263.6" height="1028.5" fill="none" stroke="#000" stroke-width="2"/>
<text class="tk" x="773.2" y="2189.1" text-anchor="end">-6</text>
<text class="tk" x="773.2" y="2044.2" text-anchor="end">-4</text>
<text class="tk" x="773.2" y="1899.2" text-anchor="end">-2</text>
<text class="tk" x="773.2" y="1754.2" text-anchor="end">0</text>
<text class="tk" x="773.2" y="1609.2" text-anchor="end">2</text>
<text class="tk" x="773.2" y="1464.2" text-anchor="end">4</text>
<text class="tk" x="773.2" y="1319.2" text-anchor="end">6</text>
<text class="tk" x="778.5" y="2303.1" text-anchor="middle">0</text>
<text class="tk" x="889.5" y="2303.1" text-anchor="middle">0.2</text>
<text class="tk" x="1000.5" y="2303.1" text-anchor="middle">0.4</text>
<text class="ti" x="787" y="1192.6"><tspan font-size="38">Sh</tspan><tspan font-size="32" dy="6.5">ulnar/radial</tspan></text>
<clipPath id="c13"><rect x="1125.2" y="1218.1" width="263.6" height="1028.5"/></clipPath>
<g stroke="#000" stroke-width="1.8" stroke-dasharray="6.5 6.4" fill="none"><line x1="1125.2" y1="2174.9" x2="1388.8" y2="2174.9"/><line x1="1125.2" y1="2030" x2="1388.8" y2="2030"/><line x1="1125.2" y1="1885" x2="1388.8" y2="1885"/><line x1="1125.2" y1="1740" x2="1388.8" y2="1740"/><line x1="1125.2" y1="1595" x2="1388.8" y2="1595"/><line x1="1125.2" y1="1450" x2="1388.8" y2="1450"/><line x1="1125.2" y1="1305" x2="1388.8" y2="1305"/><line x1="1236.2" y1="2246.6" x2="1236.2" y2="1218.1"/><line x1="1347.2" y1="2246.6" x2="1347.2" y2="1218.1"/></g>
<path d="M1125.2 2174.9h10M1388.8 2174.9h-10M1125.2 2030h10M1388.8 2030h-10M1125.2 1885h10M1388.8 1885h-10M1125.2 1740h10M1388.8 1740h-10M1125.2 1595h10M1388.8 1595h-10M1125.2 1450h10M1388.8 1450h-10M1125.2 1305h10M1388.8 1305h-10M1236.2 2246.6v-10M1236.2 1218.1v10M1347.2 2246.6v-10M1347.2 1218.1v10" stroke="#000" stroke-width="2" fill="none"/>
<g clip-path="url(#c13)"><path d="M1125.8 1743.5C1129.4 1744.8 1132.7 1746.1 1136.5 1747.4C1140.7 1748.9 1145.5 1750.6 1150 1752.3C1154.5 1753.9 1159.2 1756.1 1163.6 1757.1C1167.5 1758 1171.4 1758.8 1175.2 1758.1C1179.2 1757.3 1183.2 1755.1 1186.8 1752.3C1191 1749 1194.8 1744 1198.4 1738.7C1202.6 1732.6 1206.2 1724.7 1210 1717.4C1214 1709.9 1217.5 1701.3 1221.6 1694.2C1225.3 1687.8 1228.7 1680.7 1233.3 1676.8C1237 1673.6 1241.9 1670.8 1245.8 1671C1249.6 1671.1 1253.3 1674 1256.5 1676.8C1260.2 1680.1 1263.2 1685.1 1266.2 1690.3C1269.7 1696.5 1272.7 1704.2 1275.8 1711.6C1279.2 1719.6 1282.3 1728.2 1285.5 1736.8C1288.8 1745.6 1291.9 1755.2 1295.2 1763.9C1298.3 1772 1301.2 1780.3 1304.9 1787.1C1308.1 1793 1311.4 1801.4 1315.5 1802.6C1318.7 1803.5 1323.2 1800.2 1326.2 1797.7C1329.4 1795.1 1331.4 1790.9 1333.9 1787.1C1336.6 1782.9 1339.1 1778.3 1341.6 1773.5C1344.3 1768.6 1346.4 1762.9 1349.4 1758.1C1352.3 1753.3 1355.7 1748.5 1359.1 1744.5C1362.1 1740.9 1365.3 1737.3 1368.7 1734.8C1371.8 1732.6 1375 1730.8 1378.4 1730C1381.8 1729.2 1385.5 1730 1389.1 1730" stroke="#ff0000" stroke-width="6.0" fill="none" stroke-linejoin="round" stroke-linecap="butt"/><path d="M1125.8 1757.1C1129.4 1759.4 1132.7 1761.6 1136.5 1763.9C1140.7 1766.4 1145.1 1769.8 1150 1771.6C1155.3 1773.5 1161.9 1775.1 1167.5 1774.5C1172.8 1774 1178 1771.7 1182.9 1768.7C1188.4 1765.3 1193.6 1759.8 1198.4 1754.6C1203.4 1749.2 1207.6 1742.5 1212 1736.8C1216 1731.4 1219.6 1726.2 1223.6 1721.3C1227.4 1716.6 1231 1711.6 1235.2 1708.1C1238.8 1705 1243.2 1702.1 1246.8 1701C1249.5 1700.1 1251.9 1700 1254.5 1700.6C1257.7 1701.3 1261.3 1703.2 1264.2 1705.8C1267.9 1709 1270.9 1714.3 1273.9 1719.4C1277.4 1725.1 1280.5 1732.6 1283.6 1738.7C1286.3 1744.2 1288.6 1749.5 1291.3 1754.2C1293.8 1758.4 1296.3 1762.4 1299.1 1765.8C1301.5 1768.8 1303.9 1771.6 1306.8 1773.5C1309.7 1775.4 1313.2 1777.1 1316.5 1777.4C1319.7 1777.7 1323 1776.7 1326.2 1775.5C1329.5 1774.2 1332.6 1771.6 1335.8 1769.7C1339.1 1767.7 1342.2 1766 1345.5 1763.9C1349.2 1761.5 1353.1 1758.6 1357.1 1756.1C1361.4 1753.5 1365.7 1750.8 1370.7 1748.4C1376.3 1745.6 1382.9 1743.2 1389.1 1740.6" stroke="#ff0000" stroke-width="10.0" fill="none" stroke-linejoin="round" stroke-linecap="butt"/><path d="M1125.8 1724.2C1128.7 1722.9 1131.4 1721.2 1134.5 1720.3C1138.1 1719.4 1142.3 1718.8 1146.2 1719C1150 1719.1 1153.9 1720.3 1157.8 1721.3C1161.7 1722.3 1165.6 1724.4 1169.4 1725.2C1172.7 1725.9 1175.9 1726.4 1179.1 1726.1C1182.3 1725.8 1185.6 1724.6 1188.7 1723.2C1192.1 1721.8 1195.3 1719.6 1198.4 1717.4C1201.7 1715.1 1204.9 1712.3 1208.1 1709.7C1211.3 1707.1 1214.4 1703.9 1217.8 1701.9C1220.9 1700.1 1224.2 1698.7 1227.5 1698.1C1230.6 1697.5 1234 1697.2 1237.1 1698.1C1240.5 1699 1243.7 1701.5 1246.8 1703.9C1250.2 1706.5 1253.4 1709.9 1256.5 1713.5C1259.9 1717.6 1262.9 1722.6 1266.2 1727.1C1269.4 1731.6 1272.5 1736.4 1275.8 1740.6C1279 1744.7 1282.2 1748.8 1285.5 1752.3C1288.6 1755.5 1291.8 1758.8 1295.2 1761C1298.3 1762.9 1301.6 1764.2 1304.9 1764.8C1308 1765.4 1311.4 1765.4 1314.5 1764.8C1317.8 1764.2 1321.1 1762.7 1324.2 1761C1327.6 1759.2 1330.8 1756.8 1333.9 1754.2C1337.3 1751.4 1340.4 1747.7 1343.6 1744.5C1346.8 1741.3 1349.9 1737.7 1353.3 1734.8C1356.4 1732.2 1359.6 1729.7 1362.9 1728.1C1366 1726.6 1369.4 1725.6 1372.6 1725.2C1375.8 1724.7 1379.4 1724.8 1382.3 1725.2C1384.8 1725.5 1386.8 1726.5 1389.1 1727.1" stroke="#ff0000" stroke-width="6.0" fill="none" stroke-dasharray="25 7.5" stroke-linejoin="round"/></g>
<rect x="1125.2" y="1218.1" width="263.6" height="1028.5" fill="none" stroke="#000" stroke-width="2"/>
<text class="tk" x="1119.9" y="2189.1" text-anchor="end">-6</text>
<text class="tk" x="1119.9" y="2044.2" text-anchor="end">-4</text>
<text class="tk" x="1119.9" y="1899.2" text-anchor="end">-2</text>
<text class="tk" x="1119.9" y="1754.2" text-anchor="end">0</text>
<text class="tk" x="1119.9" y="1609.2" text-anchor="end">2</text>
<text class="tk" x="1119.9" y="1464.2" text-anchor="end">4</text>
<text class="tk" x="1119.9" y="1319.2" text-anchor="end">6</text>
<text class="tk" x="1125.2" y="2303.1" text-anchor="middle">0</text>
<text class="tk" x="1236.2" y="2303.1" text-anchor="middle">0.2</text>
<text class="tk" x="1347.2" y="2303.1" text-anchor="middle">0.4</text>
<text class="ti" x="1126.8" y="1192.6"><tspan font-size="38">El</tspan><tspan font-size="32" dy="6.5">extension/flexion</tspan></text>
<text class="ti" font-size="38.8" transform="translate(31.9,1733) rotate(-90)" x="0" y="0">Torques (Nm)</text>
<text class="ti" font-size="38.5" x="134" y="2304.5">Time (s)</text>
<rect x="1127" y="115.9" width="248.6" height="181.9" fill="#fff" stroke="#000" stroke-width="2"/>
<line x1="1150.9" y1="151.1" x2="1271" y2="151.1" stroke="#000" stroke-width="6.0"/>
<line x1="1150.9" y1="207.3" x2="1271" y2="207.3" stroke="#000" stroke-width="6.0" stroke-dasharray="25 7.5"/>
<line x1="1150.9" y1="263.4" x2="1271" y2="263.4" stroke="#000" stroke-width="10.0"/>
<text class="lg" x="1287.5" y="167.4">NT</text>
<text class="lg" x="1287.5" y="224.6">IT</text>
<text class="lg" x="1287.5" y="279.8">dMT</text>
<rect x="1127" y="1263.2" width="248.6" height="181.9" fill="#fff" stroke="#000" stroke-width="2"/>
<line x1="1150.9" y1="1298.4" x2="1271" y2="1298.4" stroke="#ff0000" stroke-width="6.0"/>
<line x1="1150.9" y1="1354.6" x2="1271" y2="1354.6" stroke="#ff0000" stroke-width="6.0" stroke-dasharray="25 7.5"/>
<line x1="1150.9" y1="1410.7" x2="1271" y2="1410.7" stroke="#ff0000" stroke-width="10.0"/>
<text class="lg" x="1287.5" y="1314.7">NT</text>
<text class="lg" x="1287.5" y="1371.9">IT</text>
<text class="lg" x="1287.5" y="1427.1">dMT</text>
</svg></body></html>
